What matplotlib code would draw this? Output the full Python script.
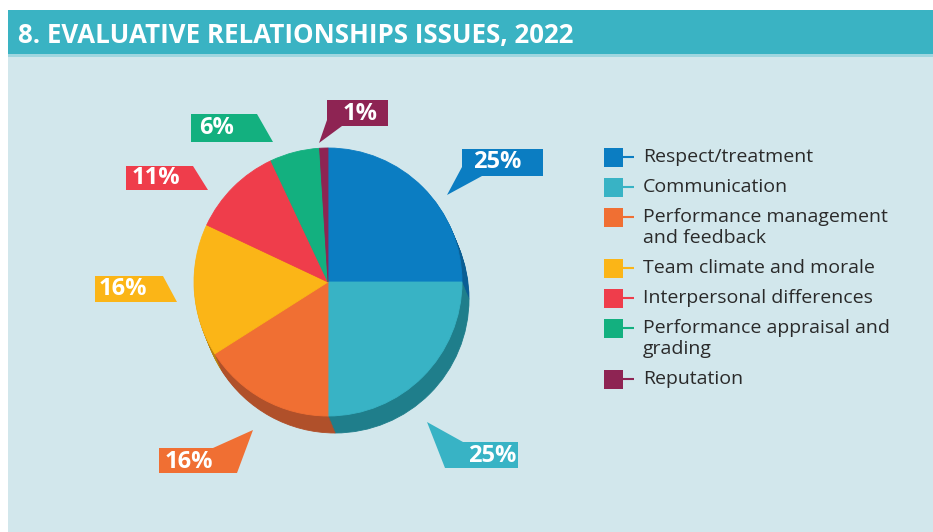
import numpy as np
import matplotlib.pyplot as plt
from matplotlib.patches import Polygon, Rectangle

plt.rcParams['font.family'] = ['Open Sans', 'DejaVu Sans']

# data
title = "8. EVALUATIVE RELATIONSHIPS ISSUES, 2022"
categories = ["Respect/treatment", "Communication", "Performance management\nand feedback",
              "Team climate and morale", "Interpersonal differences",
              "Performance appraisal and\ngrading", "Reputation"]
shares = [25, 25, 16, 16, 11, 6, 1]
colors = ['#0B7DC2', '#38B3C5', '#F06F33', '#FBB517', '#EF3D4B', '#13B07F', '#8E2453']
side_colors = ['#0A5E94', '#1F7E8B', '#B0502A', '#B88410', '#A92B36', '#0D7C5A', '#64193A']

# callout flags (pixel coords, y down) and text centres, same order as data
flag_shapes = [
    [(462, 149), (543, 149), (543, 176), (482, 176), (447, 195), (462, 167)],
    [(427, 422), (463, 442), (518, 442), (518, 468), (445, 468)],
    [(159, 448), (213, 448), (253, 430), (237, 473), (159, 473)],
    [(95, 276), (163, 276), (177, 302), (95, 302)],
    [(126, 166), (193, 166), (208, 190), (126, 190)],
    [(191, 114), (257, 114), (273, 142), (191, 142)],
    [(327, 100), (388, 100), (388, 126), (342, 126), (319, 143), (327, 120)],
]
flag_text_xy = [(497, 162), (492, 456), (189, 462), (123, 289), (156, 178), (217, 128), (360, 114)]

W, H = 933, 532
fig = plt.figure(figsize=(W / 100, H / 100), dpi=100)
fig.patch.set_facecolor('white')

bg = fig.add_axes([0, 0, 1, 1])
bg.set_xlim(0, W)
bg.set_ylim(H, 0)
bg.axis('off')

# background panels
bg.add_patch(Rectangle((8, 55), W - 8, H - 55, color='#D2E7EC', lw=0))
bg.add_patch(Rectangle((8, 10), W - 8, 45, color='#3AB3C3', lw=0))
bg.add_patch(Rectangle((8, 54), W - 8, 3, color='#9FD6DF', lw=0))
bg.text(18, 35, title, color='white', fontsize=18.6, fontweight='bold', va='center', ha='left')

# callouts
for shape, (tx, ty), val, col in zip(flag_shapes, flag_text_xy, shares, colors):
    bg.add_patch(Polygon(shape, closed=True, color=col, lw=0))
    bg.text(tx, ty, f"{val}%", color='white', fontsize=17, fontweight='bold', ha='center', va='center')

# legend
ly = 157
for cat, col in zip(categories, colors):
    bg.add_patch(Rectangle((604, ly - 9.5), 19, 19, color=col, lw=0))
    bg.plot([623, 634], [ly, ly], color=col, lw=1.5, solid_capstyle='butt')
    lines = cat.split("\n")
    for i, line in enumerate(lines):
        bg.text(643, ly + 21 * i, line, color='#2A2A2A', fontsize=14, va='center', ha='left')
    ly += 30 + 21 * (len(lines) - 1)

# pie with a fake 3d side
cx, cy, r = 328, 282, 134
S = 380
pax = fig.add_axes([(cx - S / 2) / W, (H - cy - S / 2) / H, S / W, S / H])
pax.axis('off')
depth = np.array([7, -17]) / r
n_steps = 12
for k in range(n_steps, 0, -1):
    off = depth * k / n_steps
    w, _ = pax.pie(shares, colors=side_colors, startangle=90, counterclock=False,
                   radius=1, center=(off[0], off[1]),
                   wedgeprops=dict(linewidth=0.6))
    for wd, c in zip(w, side_colors):
        wd.set_edgecolor(c)
w, _ = pax.pie(shares, colors=colors, startangle=90, counterclock=False, radius=1,
               wedgeprops=dict(linewidth=0.6))
for wd, c in zip(w, colors):
    wd.set_edgecolor(c)
lim = S / 2 / r
pax.set_xlim(-lim, lim)
pax.set_ylim(-lim, lim)
pax.set_aspect('equal')

fig.savefig('out.png', dpi=100, facecolor='white')
